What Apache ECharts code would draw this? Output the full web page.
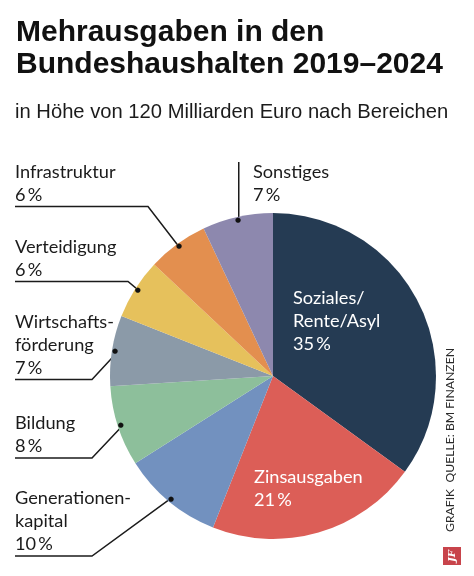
<!DOCTYPE html>
<html><head><meta charset="utf-8">
<script src="https://cdn.jsdelivr.net/npm/echarts@6/dist/echarts.min.js"></script>
<style>html,body{margin:0;padding:0;background:#fff}#c{width:474px;height:576px}</style>
</head><body><div id="c"></div>
<script>
// ---- data ----
const titleText = 'Mehrausgaben in den\nBundeshaushalten 2019–2024';
const subtitleText = 'in Höhe von 120 Milliarden Euro nach Bereichen';
const categories = ['Soziales/\nRente/Asyl', 'Zinsausgaben', 'Generationen-\nkapital', 'Bildung', 'Wirtschafts-\nförderung', 'Verteidigung', 'Infrastruktur', 'Sonstiges'];
const shares = [35, 21, 10, 8, 7, 6, 6, 7];
const sourceText = 'GRAFIK  QUELLE: BM FINANZEN';

// ---- styles / layout ----
const colors = ['#253b53', '#dc5e57', '#7291bf', '#8dbf9b', '#8b9aa8', '#e6c15c', '#e38f4f', '#8d88ae'];
const labelCfg = [
  { x: 293, y: 287, inside: true },
  { x: 254, y: 466, inside: true },
  { x: 15, y: 487, lineEnd: 92 },
  { x: 15, y: 412, lineEnd: 92 },
  { x: 15, y: 310.5, lineEnd: 92 },
  { x: 15, y: 235.5, lineEnd: 128 },
  { x: 15, y: 160.5, lineEnd: 148 },
  { x: 253, y: 160.5, vertical: true, lineTop: 162 }
];
const CENTER = [273, 376], R = 163, INSET = 6;
const FONT = 'Lato';

const chart = echarts.init(document.getElementById('c'), null, { renderer: 'canvas' });

const mainData = categories.map((name, i) => {
  const inside = labelCfg[i].inside;
  return {
    name, value: shares[i],
    itemStyle: { color: colors[i] },
    label: inside ? { position: 'inside', color: '#fff' } : { position: 'outside', color: '#1b1b1b' },
    labelLine: { show: !inside }
  };
});
const dotData = categories.map((name, i) => ({
  name, value: shares[i],
  label: { show: !labelCfg[i].inside }
}));

chart.setOption({
  animation: false,
  title: [
    { text: titleText, left: 11, top: 12,
      textStyle: { fontFamily: 'Liberation Sans', fontWeight: 'bold', fontSize: 30, lineHeight: 32, color: '#111' } },
    { text: subtitleText, left: 10, top: 96,
      textStyle: { fontFamily: 'Liberation Sans', fontWeight: 'normal', fontSize: 20.2, lineHeight: 22, color: '#1b1b1b' } }
  ],
  series: [
    {
      type: 'pie', center: CENTER, radius: [0, R], startAngle: 90, clockwise: true,
      avoidLabelOverlap: false, silent: true,
      emphasis: { disabled: true },
      label: {
        formatter: p => p.name + '\n' + p.value + '\u2009%',
        fontFamily: FONT, fontSize: 18.2, lineHeight: 23, align: 'left'
      },
      labelLine: { show: true, length: 10, length2: 10, smooth: false,
        lineStyle: { color: '#1b1b1b', width: 1.5 } },
      labelLayout: function (params) {
        const c = labelCfg[params.dataIndex];
        const res = { x: c.x, y: c.y, align: 'left', verticalAlign: 'top' };
        const pts = params.labelLinePoints;
        if (!c.inside && pts) {
          const p0 = pts[0], p1 = pts[1];
          const dx = p1[0] - p0[0], dy = p1[1] - p0[1];
          const len = Math.hypot(dx, dy) || 1;
          const a = [p0[0] - dx / len * INSET, p0[1] - dy / len * INSET];
          const by = c.y + params.labelRect.height;
          if (c.vertical) {
            res.labelLinePoints = [a, [a[0], c.lineTop], [a[0], c.lineTop]];
          } else {
            res.labelLinePoints = [a, [c.lineEnd, by], [c.x, by]];
          }
        }
        return res;
      },
      data: mainData
    },
    {
      type: 'pie', center: CENTER, radius: [R - 2 * INSET, R], startAngle: 90, clockwise: true,
      avoidLabelOverlap: false, silent: true, z: 5,
      emphasis: { disabled: true },
      itemStyle: { color: 'rgba(0,0,0,0)' },
      label: { position: 'inside', formatter: '●', fontSize: 7, color: '#111', fontFamily: 'DejaVu Sans' },
      labelLine: { show: false },
      data: dotData
    }
  ],
  graphic: [
    { type: 'text', x: 450, y: 532, rotation: Math.PI / 2,
      style: { text: sourceText, fontFamily: FONT, fontSize: 12.2, fill: '#2a2a2a', align: 'left', verticalAlign: 'middle' } },
    { type: 'rect', shape: { x: 443, y: 547, width: 18, height: 18 }, style: { fill: '#c8444b' } },
    { type: 'text', x: 452, y: 556, rotation: Math.PI / 2,
      style: { text: 'JF', fontFamily: 'DejaVu Serif', fontWeight: 'bold', fontStyle: 'italic', fontSize: 10, fill: '#fff', align: 'center', verticalAlign: 'middle' } }
  ]
});
</script>
</body></html>
